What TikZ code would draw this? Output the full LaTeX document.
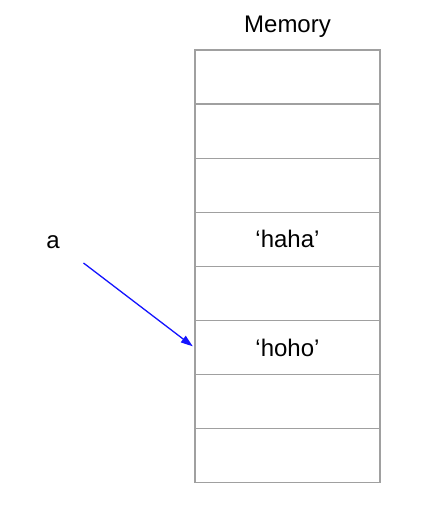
\documentclass[tikz,border=0pt]{standalone}
\usepackage{fontspec}
\setmainfont{Liberation Sans}
\usetikzlibrary{arrows.meta}

\begin{document}
\begin{tikzpicture}[x=1pt,y=-1pt,font=\fontsize{24}{28}\selectfont]
    \definecolor{memcell_border}{RGB}{160,160,160}
    \definecolor{memcell_arrow}{RGB}{20,20,255}
    \useasboundingbox (0,0) rectangle (427,510);
    \node[anchor=base] (memtitle) at (287.5,33) {Memory};
    \node[shape=rectangle,draw=memcell_border,line width=1.3pt,minimum width=185pt,minimum height=54.1pt] (cell1) at (287.5,77.05)  {};
    \node[shape=rectangle,draw=memcell_border,line width=1.3pt,minimum width=185pt,minimum height=54.1pt] (cell2) at (287.5,131.15) {};
    \node[shape=rectangle,draw=memcell_border,line width=1.3pt,minimum width=185pt,minimum height=54.1pt] (cell3) at (287.5,185.25) {};
    \node[shape=rectangle,draw=memcell_border,line width=1.3pt,minimum width=185pt,minimum height=54.1pt] (cell4) at (287.5,239.35) {`haha'};
    \node[shape=rectangle,draw=memcell_border,line width=1.3pt,minimum width=185pt,minimum height=54.1pt] (cell5) at (287.5,293.45) {};
    \node[shape=rectangle,draw=memcell_border,line width=1.3pt,minimum width=185pt,minimum height=54.1pt] (cell6) at (287.5,347.55) {`hoho'};
    \node[shape=rectangle,draw=memcell_border,line width=1.3pt,minimum width=185pt,minimum height=54.1pt] (cell7) at (287.5,401.65) {};
    \node[shape=rectangle,draw=memcell_border,line width=1.3pt,minimum width=185pt,minimum height=54.1pt] (cell8) at (287.5,455.75) {};
    \node (avar) at (53,242) {a};
    \coordinate (aptr) at (83.5,263);
    \draw[-{Triangle[length=12pt,width=8pt]},draw=memcell_arrow,fill=memcell_arrow,line width=1.3pt,shorten >=2pt] (aptr) -- (cell6.west);
\end{tikzpicture}
\end{document}
